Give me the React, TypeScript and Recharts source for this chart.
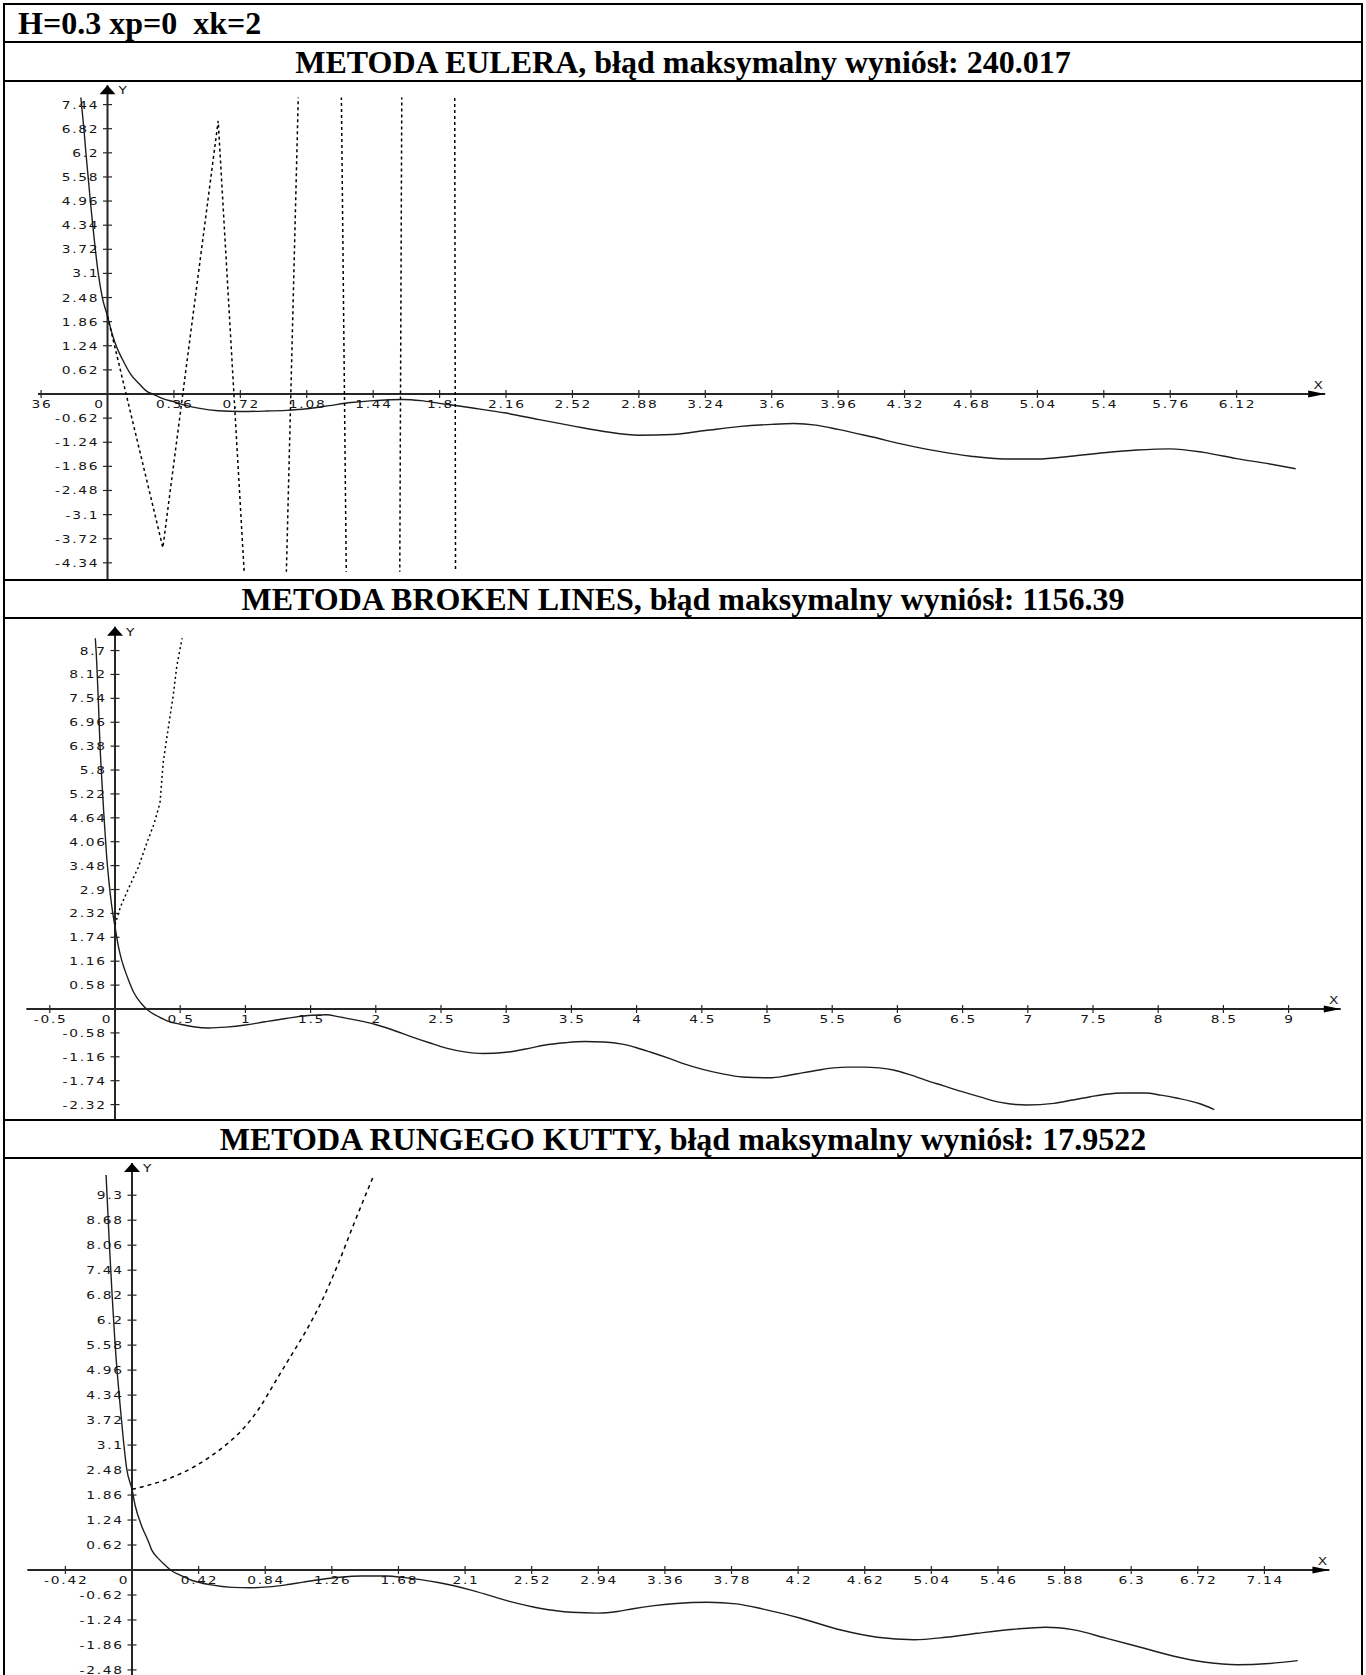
import { LineChart, Line, XAxis, YAxis, ReferenceLine, ReferenceDot } from "recharts";

const HEADER = "H=0.3 xp=0  xk=2";

// Metoda Eulera
const EULER_TITLE = "METODA EULERA, błąd maksymalny wyniósł: 240.017";
const EULER_EXACT_X = [
  -0.145, -0.128, -0.117, -0.105, -0.093, -0.08, -0.066, -0.05, -0.028, 0, 0.025, 0.05, 0.08, 0.124,
  0.17, 0.215, 0.245, 0.3, 0.36, 0.43, 0.5, 0.6, 0.72, 0.85, 0.97, 1.08, 1.2, 1.32, 1.44, 1.6, 1.7,
  1.8, 1.98, 2.16, 2.34, 2.52, 2.7, 2.88, 3.06, 3.24, 3.42, 3.6, 3.72, 3.84, 3.96, 4.14, 4.32, 4.5,
  4.68, 4.86, 5.04, 5.22, 5.4, 5.58, 5.76, 5.94, 6.12, 6.3, 6.44,
];
const EULER_EXACT_Y = [
  7.65, 6.82, 6.2, 5.58, 4.96, 4.34, 3.72, 3.1, 2.48, 2.0, 1.55, 1.2, 0.9, 0.52, 0.27, 0.06, 0,
  -0.12, -0.2, -0.3, -0.37, -0.43, -0.45, -0.44, -0.42, -0.38, -0.3, -0.22, -0.17, -0.14, -0.17,
  -0.24, -0.36, -0.49, -0.66, -0.82, -0.97, -1.06, -1.04, -0.94, -0.84, -0.78, -0.76, -0.8, -0.91,
  -1.1, -1.3, -1.47, -1.6, -1.67, -1.67, -1.6, -1.51, -1.44, -1.41, -1.5, -1.66, -1.8, -1.92,
];
const EULER_STEP_X = [0, 0.3, 0.6, 0.9, 1.2, 1.5, 1.8, 2.1];
const EULER_STEP_Y = [2.0, -3.95, 7.02, -17.7, 39.0, -99.9, 239.8, -610];
const EULER_X_TICKS = [
  -0.36, 0, 0.36, 0.72, 1.08, 1.44, 1.8, 2.16, 2.52, 2.88, 3.24, 3.6, 3.96, 4.32, 4.68, 5.04, 5.4,
  5.76, 6.12,
];
const EULER_X_LABELS = [
  "36", "0", "0.36", "0.72", "1.08", "1.44", "1.8", "2.16", "2.52", "2.88", "3.24", "3.6", "3.96",
  "4.32", "4.68", "5.04", "5.4", "5.76", "6.12",
];
const EULER_Y_TICKS = [
  7.44, 6.82, 6.2, 5.58, 4.96, 4.34, 3.72, 3.1, 2.48, 1.86, 1.24, 0.62, -0.62, -1.24, -1.86, -2.48,
  -3.1, -3.72, -4.34,
];

// Metoda broken lines
const BROKEN_TITLE = "METODA BROKEN LINES, błąd maksymalny wyniósł: 1156.39";
const BROKEN_EXACT_X = [
  -0.153, -0.14, -0.128, -0.115, -0.1, -0.085, -0.065, -0.045, -0.025, 0, 0.024, 0.05, 0.075, 0.11,
  0.144, 0.2, 0.26, 0.33, 0.41, 0.5, 0.6, 0.72, 0.85, 1.0, 1.15, 1.31, 1.51, 1.62, 1.72, 1.85, 1.99,
  2.13, 2.27, 2.41, 2.54, 2.68, 2.82, 3.0, 3.15, 3.29, 3.45, 3.6, 3.75, 3.9, 4.0, 4.11, 4.25, 4.37,
  4.5, 4.65, 4.81, 5.02, 5.15, 5.27, 5.4, 5.51, 5.62, 5.74, 5.86, 5.97, 6.1, 6.21, 6.35, 6.49, 6.64,
  6.78, 6.99, 7.2, 7.34, 7.48, 7.6, 7.73, 7.9, 8.02, 8.14, 8.32, 8.43,
];
const BROKEN_EXACT_Y = [
  9.1, 8.4, 7.5, 6.4, 5.5, 4.7, 3.75, 3.05, 2.5, 2.0, 1.55, 1.2, 0.95, 0.65, 0.4, 0.14, -0.05, -0.18,
  -0.3, -0.37, -0.43, -0.46, -0.44, -0.39, -0.31, -0.23, -0.15, -0.14, -0.19, -0.27, -0.37, -0.51,
  -0.67, -0.82, -0.95, -1.04, -1.08, -1.05, -0.97, -0.88, -0.82, -0.79, -0.8, -0.86, -0.94, -1.05,
  -1.2, -1.34, -1.46, -1.57, -1.65, -1.67, -1.62, -1.55, -1.48, -1.43, -1.41, -1.41, -1.43, -1.48,
  -1.6, -1.72, -1.86, -2.0, -2.14, -2.26, -2.33, -2.29, -2.21, -2.13, -2.07, -2.04, -2.04, -2.09,
  -2.16, -2.3, -2.44,
];
const BROKEN_STEP_X = [0, 0.042, 0.11, 0.18, 0.243, 0.3, 0.345, 0.37, 0.41, 0.447, 0.473, 0.512, 0.55];
const BROKEN_STEP_Y = [2.05, 2.48, 2.97, 3.45, 4.02, 4.5, 5.0, 6.0, 6.85, 7.62, 8.3, 8.96, 9.6];
const BROKEN_X_TICKS = [-0.5, 0, 0.5, 1, 1.5, 2, 2.5, 3, 3.5, 4, 4.5, 5, 5.5, 6, 6.5, 7, 7.5, 8, 8.5, 9];
const BROKEN_Y_TICKS = [
  8.7, 8.12, 7.54, 6.96, 6.38, 5.8, 5.22, 4.64, 4.06, 3.48, 2.9, 2.32, 1.74, 1.16, 0.58, -0.58, -1.16,
  -1.74, -2.32,
];

// Metoda Rungego-Kutty
const RK_TITLE = "METODA RUNGEGO KUTTY, błąd maksymalny wyniósł: 17.9522";
const RK_EXACT_X = [
  -0.164, -0.143, -0.125, -0.107, -0.08, -0.055, -0.033, 0, 0.02, 0.06, 0.1, 0.124, 0.17, 0.22, 0.25,
  0.3, 0.38, 0.5, 0.63, 0.75, 0.86, 0.97, 1.08, 1.2, 1.31, 1.45, 1.6, 1.72, 1.82, 1.93, 2.15, 2.38,
  2.57, 2.77, 2.94, 3.06, 3.16, 3.28, 3.43, 3.63, 3.81, 3.98, 4.21, 4.47, 4.7, 4.93, 5.13, 5.33,
  5.56, 5.76, 5.93, 6.14, 6.37, 6.57, 6.77, 6.97, 7.17, 7.35,
];
const RK_EXACT_Y = [
  9.85, 8.1, 6.8, 5.63, 4.3, 3.25, 2.5, 2.0, 1.6, 1.1, 0.74, 0.5, 0.27, 0.08, -0.02, -0.12, -0.26,
  -0.37, -0.43, -0.44, -0.42, -0.37, -0.3, -0.23, -0.18, -0.15, -0.15, -0.19, -0.24, -0.31, -0.51,
  -0.78, -0.95, -1.05, -1.07, -1.03, -0.96, -0.89, -0.83, -0.8, -0.84, -0.97, -1.19, -1.49, -1.67,
  -1.73, -1.67, -1.57, -1.47, -1.42, -1.48, -1.69, -1.93, -2.14, -2.29, -2.35, -2.32, -2.25,
];
const RK_STEP_X = [0, 0.1, 0.2, 0.3, 0.4, 0.5, 0.6, 0.7, 0.8, 0.9, 1.0, 1.1, 1.2, 1.3, 1.4, 1.53];
const RK_STEP_Y = [2.0, 2.1, 2.22, 2.38, 2.58, 2.83, 3.13, 3.5, 4.0, 4.65, 5.3, 5.95, 6.7, 7.6, 8.6, 9.85];
const RK_X_TICKS = [
  -0.42, 0, 0.42, 0.84, 1.26, 1.68, 2.1, 2.52, 2.94, 3.36, 3.78, 4.2, 4.62, 5.04, 5.46, 5.88, 6.3,
  6.72, 7.14,
];
const RK_Y_TICKS = [
  9.3, 8.68, 8.06, 7.44, 6.82, 6.2, 5.58, 4.96, 4.34, 3.72, 3.1, 2.48, 1.86, 1.24, 0.62, -0.62, -1.24,
  -1.86, -2.48,
];

const PANEL_WIDTH = 1356;
const BORDER = "2px solid #000";
const AXIS_COLOR = "#262626";
// tick labels are drawn in a horizontally stretched sans face
const SX = 1.25;
const LS = 1.4;
const labelStyle = {
  fontFamily: '"DejaVu Sans", sans-serif',
  fontSize: 11,
  letterSpacing: LS,
  fill: "#151515",
};
const titleFont = {
  fontFamily: '"Liberation Serif", "Times New Roman", serif',
  fontWeight: 700,
  fontSize: 32,
  lineHeight: "32px",
};

const zip = (xs: number[], ys: number[]) => xs.map((x, i) => ({ x, y: ys[i] }));

function WideText({
  x,
  y,
  anchor,
  children,
}: {
  x: number;
  y: number;
  anchor: "start" | "middle" | "end";
  children: string;
}) {
  // trailing letter spacing shifts anchored text, so compensate for it
  const shift = anchor === "end" ? LS * SX : anchor === "middle" ? (LS * SX) / 2 : 0;
  return (
    <text transform={`translate(${x + shift},${y}) scale(${SX},1)`} textAnchor={anchor} style={labelStyle}>
      {children}
    </text>
  );
}

type PanelProps = {
  height: number;
  originX: number;
  originY: number;
  kx: number;
  ky: number;
  xFrom: number;
  xTo: number;
  yTop: number;
  clipTop: number;
  clipBottom?: number;
  xTicks: number[];
  xLabels?: string[];
  yTicks: number[];
  exact: { x: number; y: number }[];
  approx: { x: number; y: number }[];
  approxCurve: "linear" | "monotone";
  approxDash: string;
};

function Panel(p: PanelProps) {
  const yBottom = -(p.height - p.originY) / p.ky;
  const clipLow = p.clipBottom ?? yBottom;
  const margin = {
    left: p.originX + p.xFrom * p.kx,
    right: PANEL_WIDTH - (p.originX + p.xTo * p.kx),
    top: p.originY - p.clipTop * p.ky,
    bottom: p.height - (p.originY - clipLow * p.ky),
  };

  return (
    <LineChart width={PANEL_WIDTH} height={p.height} margin={margin}>
      <XAxis type="number" dataKey="x" domain={[p.xFrom, p.xTo]} allowDataOverflow hide />
      <YAxis type="number" dataKey="y" domain={[clipLow, p.clipTop]} allowDataOverflow hide />

      {/* axes through the origin */}
      <ReferenceLine
        segment={[{ x: p.xFrom, y: 0 }, { x: p.xTo, y: 0 }]}
        stroke={AXIS_COLOR}
        strokeWidth={1.8}
        ifOverflow="visible"
      />
      <ReferenceLine
        segment={[{ x: 0, y: yBottom }, { x: 0, y: p.yTop }]}
        stroke={AXIS_COLOR}
        strokeWidth={2}
        ifOverflow="visible"
      />

      {p.xTicks.map((t, i) => {
        const label = p.xLabels ? p.xLabels[i] : String(t);
        const origin = t === 0;
        return (
          <ReferenceDot
            key={`xt${i}`}
            x={t}
            y={0}
            ifOverflow="visible"
            shape={(s: any) => (
              <g>
                {!origin && (
                  <line x1={s.cx} y1={s.cy - 4} x2={s.cx} y2={s.cy + 4} stroke={AXIS_COLOR} strokeWidth={1.2} />
                )}
                <WideText x={s.cx + (origin ? -9 : 0)} y={s.cy + 14} anchor="middle">
                  {label}
                </WideText>
              </g>
            )}
          />
        );
      })}

      {p.yTicks.map((t, i) => (
        <ReferenceDot
          key={`yt${i}`}
          x={0}
          y={t}
          ifOverflow="visible"
          shape={(s: any) => (
            <g>
              <line x1={s.cx - 4.5} y1={s.cy} x2={s.cx + 4.5} y2={s.cy} stroke={AXIS_COLOR} strokeWidth={1.2} />
              <WideText x={s.cx - 10} y={s.cy + 4} anchor="end">
                {String(t)}
              </WideText>
            </g>
          )}
        />
      ))}

      {/* arrow heads */}
      <ReferenceDot
        x={p.xTo}
        y={0}
        ifOverflow="visible"
        shape={(s: any) => (
          <g>
            <path d={`M${s.cx},${s.cy} L${s.cx - 17},${s.cy - 3.5} L${s.cx - 17},${s.cy + 3.5} Z`} fill="#000" />
            <WideText x={s.cx - 7} y={s.cy - 5} anchor="middle">
              X
            </WideText>
          </g>
        )}
      />
      <ReferenceDot
        x={0}
        y={p.yTop}
        ifOverflow="visible"
        shape={(s: any) => (
          <g>
            <path d={`M${s.cx},${s.cy} L${s.cx - 8},${s.cy + 9} L${s.cx + 8},${s.cy + 9} Z`} fill="#000" />
            <WideText x={s.cx + 11} y={s.cy + 9} anchor="start">
              Y
            </WideText>
          </g>
        )}
      />

      <Line
        data={p.exact}
        dataKey="y"
        type="monotone"
        stroke="#1e1e1e"
        strokeWidth={1.4}
        dot={false}
        activeDot={false}
        isAnimationActive={false}
      />
      <Line
        data={p.approx}
        dataKey="y"
        type={p.approxCurve}
        stroke="#000"
        strokeWidth={1.5}
        strokeDasharray={p.approxDash}
        dot={false}
        activeDot={false}
        isAnimationActive={false}
      />
    </LineChart>
  );
}

function TitleRow({ text, height }: { text: string; height: number }) {
  return (
    <div
      style={{
        height,
        borderBottom: BORDER,
        display: "flex",
        alignItems: "center",
        justifyContent: "center",
        ...titleFont,
      }}
    >
      {text}
    </div>
  );
}

export default function App() {
  return (
    <div
      style={{
        position: "absolute",
        left: 3,
        top: 3,
        width: 1360,
        height: 1672,
        border: BORDER,
        borderBottom: "none",
        boxSizing: "border-box",
        background: "#fff",
        overflow: "hidden",
        color: "#000",
      }}
    >
      <div
        style={{
          height: 36,
          borderBottom: BORDER,
          display: "flex",
          alignItems: "center",
          paddingLeft: 13,
          whiteSpace: "pre",
          ...titleFont,
        }}
      >
        {HEADER}
      </div>

      <TitleRow text={EULER_TITLE} height={37} />
      <div style={{ height: 497, borderBottom: BORDER }}>
        <Panel
          height={497}
          originX={102.5}
          originY={312}
          kx={184.5}
          ky={38.9}
          xFrom={-0.377}
          xTo={6.6}
          yTop={7.94}
          clipTop={7.62}
          clipBottom={-4.57}
          xTicks={EULER_X_TICKS}
          xLabels={EULER_X_LABELS}
          yTicks={EULER_Y_TICKS}
          exact={zip(EULER_EXACT_X, EULER_EXACT_Y)}
          approx={zip(EULER_STEP_X, EULER_STEP_Y)}
          approxCurve="linear"
          approxDash="3 3"
        />
      </div>

      <TitleRow text={BROKEN_TITLE} height={36} />
      <div style={{ height: 500, borderBottom: BORDER }}>
        <Panel
          height={500}
          originX={110}
          originY={390}
          kx={130.4}
          ky={41.2}
          xFrom={-0.68}
          xTo={9.4}
          yTop={9.28}
          clipTop={9.0}
          xTicks={BROKEN_X_TICKS}
          yTicks={BROKEN_Y_TICKS}
          exact={zip(BROKEN_EXACT_X, BROKEN_EXACT_Y)}
          approx={zip(BROKEN_STEP_X, BROKEN_STEP_Y)}
          approxCurve="linear"
          approxDash="2 3"
        />
      </div>

      <TitleRow text={RK_TITLE} height={36} />
      <div style={{ height: 516 }}>
        <Panel
          height={516}
          originX={127}
          originY={411}
          kx={158.6}
          ky={40.3}
          xFrom={-0.66}
          xTo={7.55}
          yTop={10.1}
          clipTop={9.8}
          xTicks={RK_X_TICKS}
          yTicks={RK_Y_TICKS}
          exact={zip(RK_EXACT_X, RK_EXACT_Y)}
          approx={zip(RK_STEP_X, RK_STEP_Y)}
          approxCurve="monotone"
          approxDash="4 4"
        />
      </div>
    </div>
  );
}
